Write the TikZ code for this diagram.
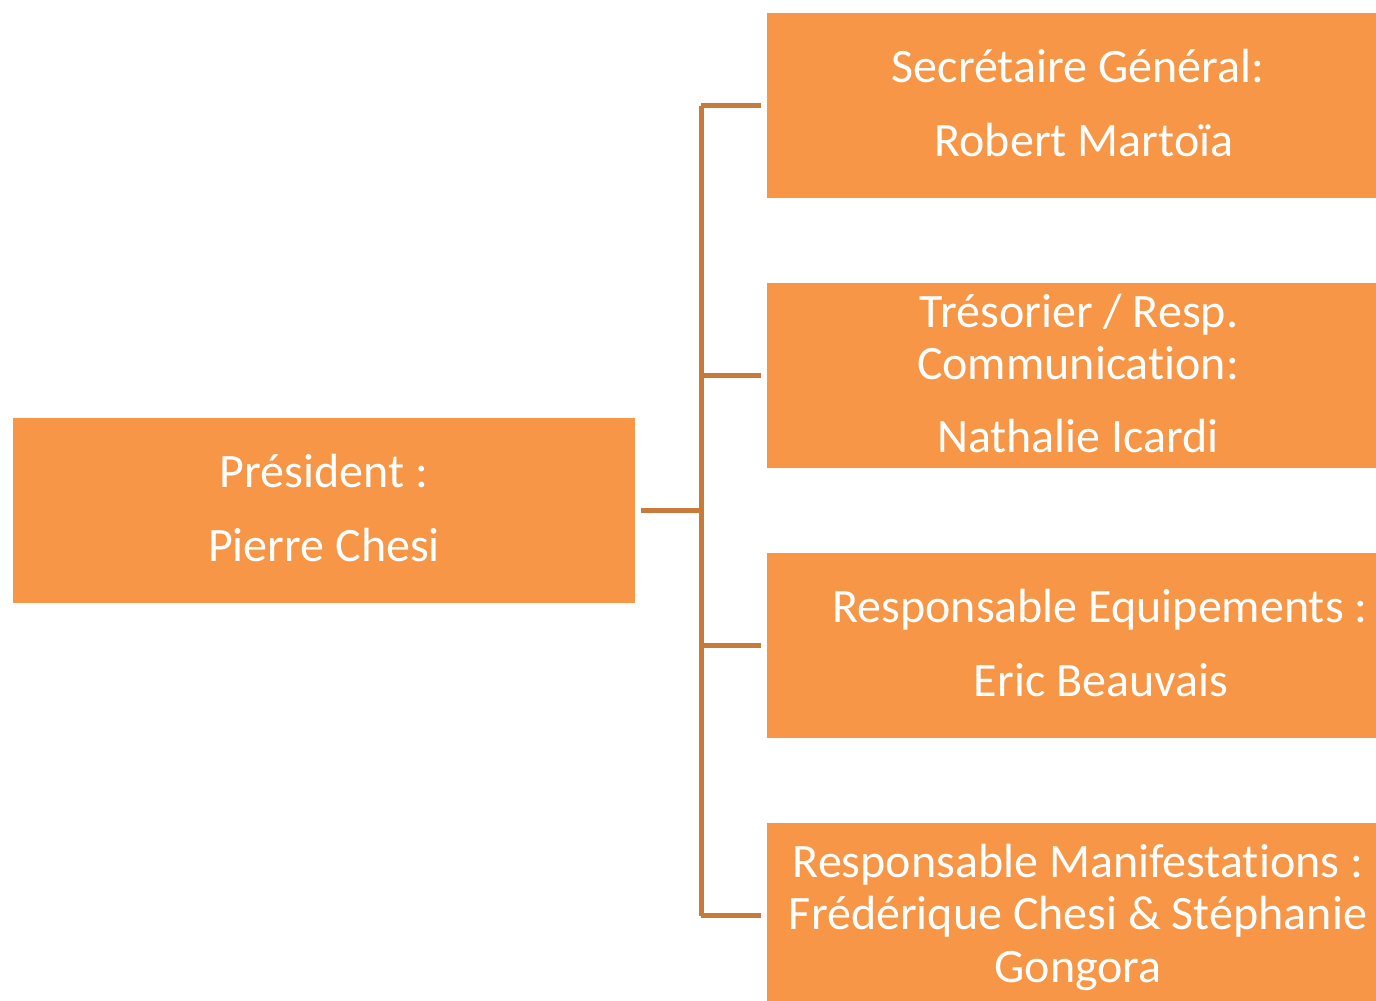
\documentclass[tikz,border=0pt]{standalone}
\usepackage{fontspec}
\setmainfont{Carlito}[Ligatures={NoCommon,NoContextual}]
\definecolor{boxorange}{RGB}{247,150,70}
\definecolor{linebrown}{RGB}{199,122,58}
\begin{document}
\begin{tikzpicture}[x=1pt,y=-1pt,
  orgbox/.style={fill=boxorange,draw=none,minimum width=622pt,minimum height=185pt,inner sep=0pt,outer sep=0pt},
  txt/.style={anchor=base,inner sep=0pt,text=white,font=\fontsize{48pt}{52pt}\selectfont},
  conn/.style={draw=linebrown,line width=5pt}]
\clip (0,0) rectangle (1376,1001);
\fill[white] (0,0) rectangle (1376,1001);
% boxes
\node[orgbox] (pres) at (324,510.5) {};
\node[orgbox] (b1) at (1078,105.5) {};
\node[orgbox] (b2) at (1078,375.5) {};
\node[orgbox] (b3) at (1078,645.5) {};
\node[orgbox] (b4) at (1078,915.5) {};
% texts
\node[txt] (p1) at (324,487) {Président :};
\node[txt] (p2) at (324,561) {Pierre Chesi};
\node[txt] (t11) at (1078,82) {Secrétaire Général:};
\node[txt] (t12) at (1084,156) {Robert Martoïa};
\node[txt] (t21) at (1079,327) {Trésorier / Resp.};
\node[txt] (t22) at (1078,379) {Communication:};
\node[txt] (t23) at (1078,452) {Nathalie Icardi};
\node[txt] (t31) at (1100,622) {Responsable Equipements :};
\node[txt] (t32) at (1101,696) {Eric Beauvais};
\node[txt] (t41) at (1078,877) {Responsable Manifestations :};
\node[txt] (t42) at (1078,929) {Frédérique Chesi \& Stéphanie};
\node[txt] (t43) at (1078,982) {Gongora};
% connectors
\coordinate (spinex) at (701,0);
\draw[conn,shorten <=6pt] (pres.east) -- (pres.east -| spinex);
\draw[conn] (b1.west -| spinex) -- (b4.west -| spinex);
\draw[conn,shorten >=6pt] (b1.west -| spinex) -- (b1.west);
\draw[conn,shorten >=6pt] (b2.west -| spinex) -- (b2.west);
\draw[conn,shorten >=6pt] (b3.west -| spinex) -- (b3.west);
\draw[conn,shorten >=6pt] (b4.west -| spinex) -- (b4.west);
\end{tikzpicture}
\end{document}
